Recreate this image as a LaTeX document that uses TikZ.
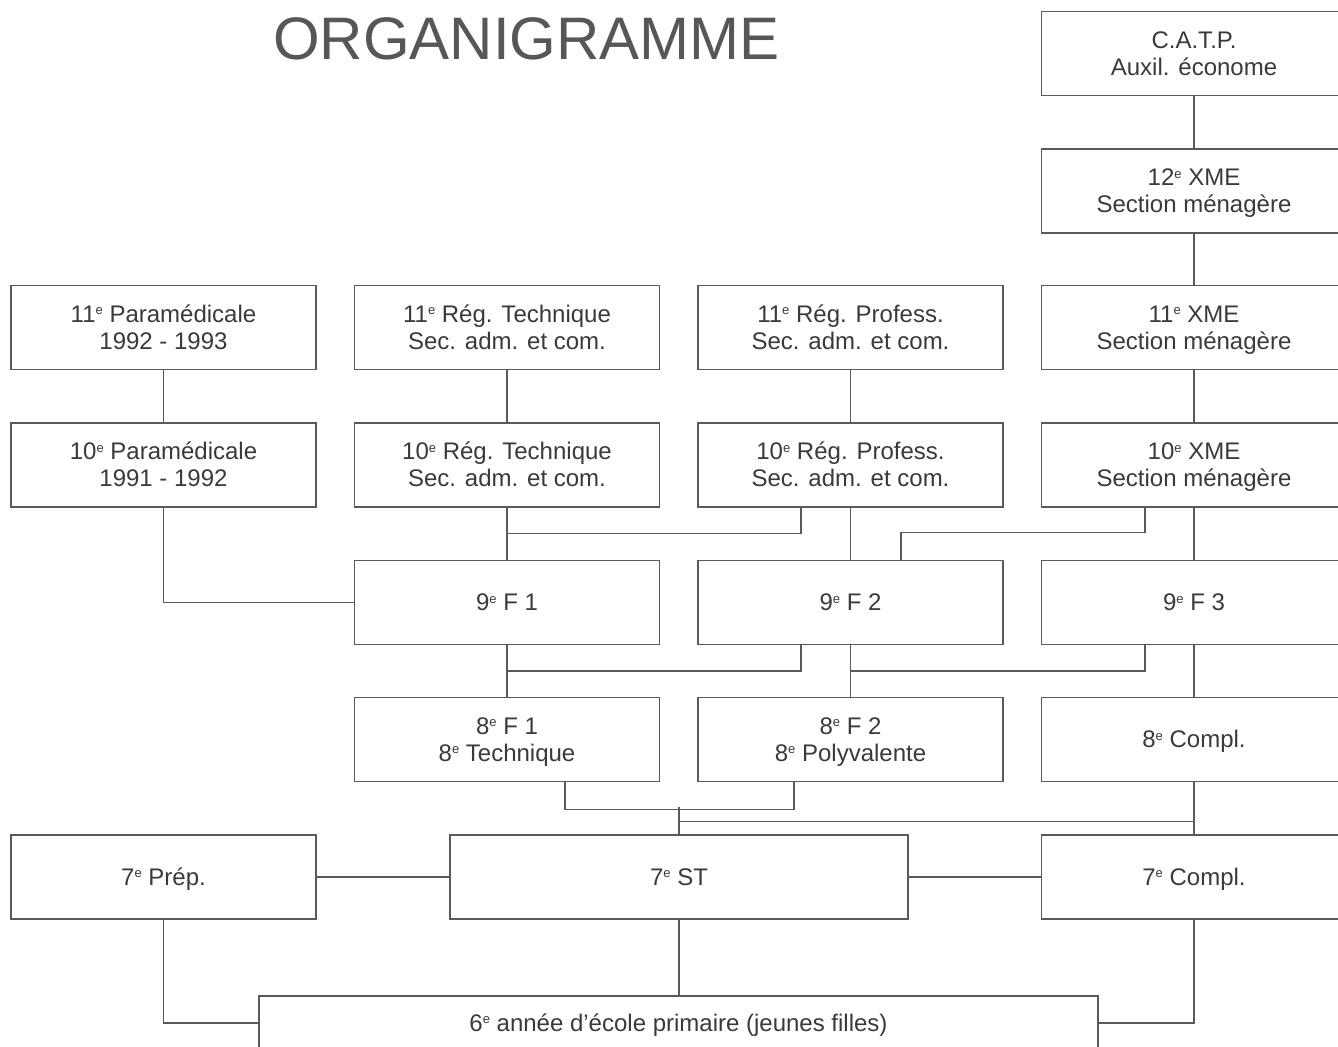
\documentclass[tikz,border=0pt]{standalone}
\usepackage{fontspec}
\setmainfont{Liberation Sans}
\usetikzlibrary{calc}
\newcommand{\supe}{\raisebox{0.6ex}{\fontsize{6.5}{6.5}\selectfont e}}
\newcommand{\mystrut}{\rule[-2.55pt]{0pt}{13.5pt}}
\newcommand{\twoline}[2]{\mystrut #1\\\mystrut #2}
\definecolor{ink}{HTML}{3A3A3A}
\definecolor{rule}{HTML}{5A5A5A}
\begin{document}
\begin{tikzpicture}[x=0.5pt,y=-0.5pt,
  box/.style={draw=rule, line width=0.75pt, minimum width=152.5pt, minimum height=42pt,
    inner sep=0pt, align=center, text=ink, font=\fontsize{12}{13.5}\selectfont},
  link/.style={draw=rule, line width=0.6pt}]
\clip (0,0) rectangle (1338,1046);
\fill[white] (0,0) rectangle (1338,1046);

\node[text=ink!85, font=\fontsize{30}{30}\selectfont, inner sep=0pt] (title) at (526.5,39) {ORGANIGRAMME};

% column 4
\node[box] (catp) at (1194,53.5) {\twoline{C.A.T.P.}{Auxil. économe}};
\node[box] (xme12) at (1194,191) {\twoline{12\supe{} XME}{Section ménagère}};
\node[box] (xme11) at (1194,327.5) {\twoline{11\supe{} XME}{Section ménagère}};
\node[box] (xme10) at (1194,465) {\twoline{10\supe{} XME}{Section ménagère}};
\node[box] (f93) at (1194,602.5) {\mystrut 9\supe{} F 3};
\node[box] (c8) at (1194,739.5) {\mystrut 8\supe{} Compl.};
\node[box] (c7) at (1194,877) {\mystrut 7\supe{} Compl.};

% column 1
\node[box] (para11) at (163.5,327.5) {\twoline{11\supe{} Paramédicale}{1992 - 1993}};
\node[box] (para10) at (163.5,465) {\twoline{10\supe{} Paramédicale}{1991 - 1992}};
\node[box] (prep7) at (163.5,877) {\mystrut 7\supe{} Prép.};

% column 2
\node[box] (tech11) at (507,327.5) {\twoline{11\supe{} Rég. Technique}{Sec. adm. et com.}};
\node[box] (tech10) at (507,465) {\twoline{10\supe{} Rég. Technique}{Sec. adm. et com.}};
\node[box] (f91) at (507,602.5) {\mystrut 9\supe{} F 1};
\node[box] (f81) at (507,739.5) {\twoline{8\supe{} F 1}{8\supe{} Technique}};

% column 3
\node[box] (prof11) at (850.5,327.5) {\twoline{11\supe{} Rég. Profess.}{Sec. adm. et com.}};
\node[box] (prof10) at (850.5,465) {\twoline{10\supe{} Rég. Profess.}{Sec. adm. et com.}};
\node[box] (f92) at (850.5,602.5) {\mystrut 9\supe{} F 2};
\node[box] (f82) at (850.5,739.5) {\twoline{8\supe{} F 2}{8\supe{} Polyvalente}};

% row 7 / 6
\node[box, minimum width=229pt] (st7) at (679,877) {\mystrut 7\supe{} ST};
\node[box, minimum width=419.5pt, minimum height=27pt] (p6) at (678.5,1023) {\mystrut 6\supe{} année d'école primaire (jeunes filles)};

% junction coordinates
\coordinate (j1) at ($(tech10.south)!0.5!(f91.north)$);
\coordinate (j2) at ($(f92.north)+(50.5,-27)$);
\coordinate (j3) at ($(f91.south)!0.5!(f81.north)$);
\coordinate (j4) at ($(f92.south)!0.5!(f82.north)$);
\coordinate (j5) at ($(st7.north)+(0,-27)$);
\coordinate (j6) at ($(st7.north)+(0,-13)$);

% column 4 chain
\draw[link] (catp.south) -- (xme12.north);
\draw[link] (xme12.south) -- (xme11.north);
\draw[link] (xme11.south) -- (xme10.north);
\draw[link] (xme10.south) -- (f93.north);
\draw[link] (f93.south) -- (c8.north);
\draw[link] (c8.south) -- (c7.north);

% column 1
\draw[link] (para11.south) -- (para10.north);
\draw[link] (para10.south) |- (f91.west);

% column 2/3 upper
\draw[link] (tech11.south) -- (tech10.north);
\draw[link] (prof11.south) -- (prof10.north);
\draw[link] (tech10.south) -- (f91.north);
\draw[link] ($(prof10.south)+(-49.5,0)$) |- (j1);
\draw[link] (prof10.south) -- (f92.north);
\draw[link] ($(xme10.south)+(-49,0)$) |- (j2) -- ($(f92.north)+(50.5,0)$);

% row 9 -> 8
\draw[link] (f91.south) -- (f81.north);
\draw[link] ($(f92.south)+(-49.5,0)$) |- (j3);
\draw[link] (f92.south) -- (f82.north);
\draw[link] ($(f93.south)+(-49,0)$) |- (j4);

% row 8 -> 7
\draw[link] ($(f81.south)+(58,0)$) |- ($(f82.south)+(-56.5,27)$) -- ($(f82.south)+(-56.5,0)$);
\draw[link] (j5) -- (st7.north);
\draw[link] (j6) -- (j6 -| c7.north);

% row 7
\draw[link] (prep7.east) -- (st7.west);
\draw[link] (st7.east) -- (c7.west);

% row 7 -> 6
\draw[link] (prep7.south) |- (p6.west);
\draw[link] (st7.south) -- (st7.south |- p6.north);
\draw[link] (c7.south) |- (p6.east);
\end{tikzpicture}
\end{document}
